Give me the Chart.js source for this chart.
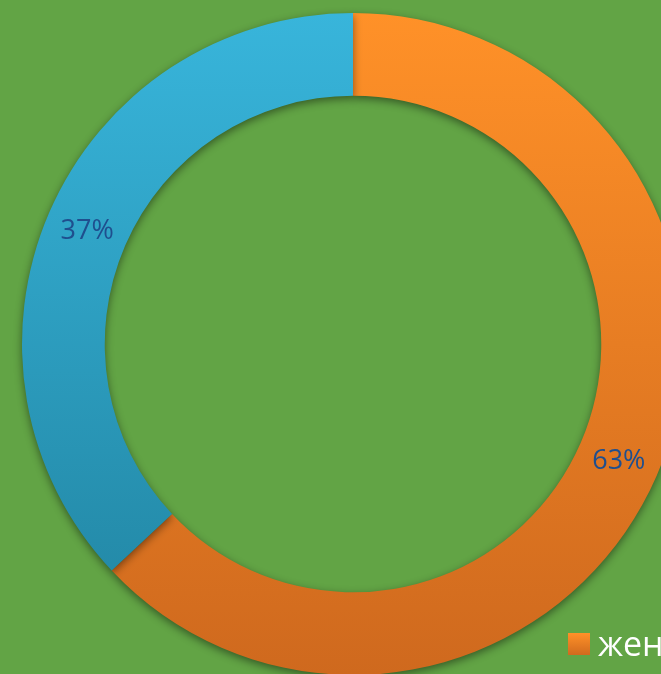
<!DOCTYPE html>
<html>
<head>
<meta charset="utf-8">
<script src="https://cdn.jsdelivr.net/npm/chart.js@4/dist/chart.umd.min.js"></script>
<style>
  html, body { margin: 0; padding: 0; background: #62A445; overflow: hidden; width: 661px; height: 674px; }
  #wrap { position: absolute; left: 0; top: 0; width: 706px; height: 688px; }
</style>
</head>
<body>
<div id="wrap"><canvas id="c" width="706" height="688"></canvas></div>
<script>
const categories = ["женщины", "мужчины"];
const values = [63, 37];
const valueLabels = ["63%", "37%"];

const ctx = document.getElementById('c').getContext('2d');

function grad(c, top, bottom) {
  const g = c.createLinearGradient(0, 13, 0, 675);
  g.addColorStop(0, top);
  g.addColorStop(1, bottom);
  return g;
}
const orangeG = grad(ctx, '#FF9128', '#CF691E');
const blueG = grad(ctx, '#38B5DB', '#2083A0');

const shadowPlugin = {
  id: 'shadow',
  beforeDatasetsDraw(chart) {
    const c = chart.ctx;
    c.save();
    c.shadowColor = 'rgba(0,0,0,0.45)';
    c.shadowBlur = 8;
    c.shadowOffsetX = 0;
    c.shadowOffsetY = 3;
  },
  afterDatasetsDraw(chart) {
    chart.ctx.restore();
  }
};

const labelPlugin = {
  id: 'vlabels',
  afterDraw(chart) {
    const c = chart.ctx;
    const meta = chart.getDatasetMeta(0);
    c.save();
    c.font = '27px "Open Sans", "Noto Sans", sans-serif';
    c.fillStyle = '#1F4F8E';
    c.textAlign = 'center';
    c.textBaseline = 'middle';
    meta.data.forEach((arc, i) => {
      const p = arc.tooltipPosition();
      c.fillText(valueLabels[i], p.x, p.y + 2);
    });
    // legend (partially visible)
    const sq = c.createLinearGradient(0, 633, 0, 655);
    sq.addColorStop(0, '#FF9128');
    sq.addColorStop(1, '#D06A1E');
    c.fillStyle = sq;
    c.fillRect(568, 633, 22, 22);
    c.fillStyle = '#FFFFFF';
    c.font = '34px "Open Sans", "Noto Sans", sans-serif';
    c.textAlign = 'left';
    c.textBaseline = 'alphabetic';
    c.fillText(categories[0], 598, 656);
    c.restore();
  }
};

new Chart(ctx, {
  type: 'doughnut',
  data: {
    labels: categories,
    datasets: [{
      data: values,
      backgroundColor: [orangeG, blueG],
      borderWidth: 0
    }]
  },
  options: {
    responsive: false,
    animation: false,
    cutout: '75%',
    layout: { padding: 13 },
    plugins: {
      legend: { display: false },
      tooltip: { enabled: false }
    }
  },
  plugins: [shadowPlugin, labelPlugin]
});
</script>
</body>
</html>
